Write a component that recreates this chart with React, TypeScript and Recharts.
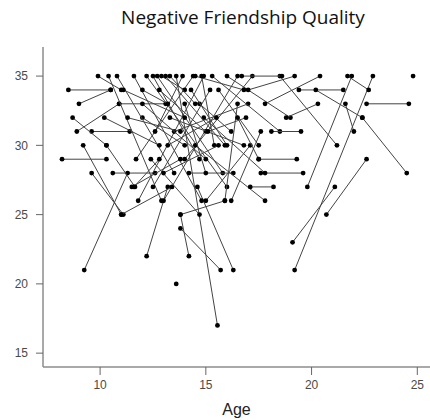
import React from "react";
import {
	Scatter,
	ScatterChart,
	XAxis,
	YAxis,
} from "recharts";

// each participant: first visit (age, score) -> second visit (age, score)
const firstAge = [
	8.5, 8.2, 9.6, 10.6, 10.9, 9.25, 9.2, 12.2, 13.6, 13.8, 13.8, 14.6, 9.9, 9.0,
	8.9, 8.7, 9.6, 10.3, 10.4, 11.6, 12.2, 12.5, 12.7, 11.8, 12.5, 13.0, 11.7,
	12.0, 12.8, 13.3, 13.5, 14.0, 14.2, 14.7, 14.5, 15.0, 15.9, 16.2, 15.3, 15.6,
	16.0, 16.5, 17.5, 17.6, 17.1, 17.0, 17.8, 19.4, 22.6, 19.2, 19.8, 19.1, 20.7,
	22.4, 20.2, 21.6, 21.7, 18.5, 18.8, 18.1, 13.8, 11.0, 11.5, 12.4, 10.8, 11.1,
	11.3, 12.0, 13.2, 14.3, 14.9, 12.6, 10.2, 12.9, 13.1, 13.3, 12.0, 14.5, 14.8,
	16.7, 15.1, 13.0, 11.6, 14.0,
];
const firstScore = [
	34, 29, 31, 28, 33, 21, 30, 22, 35, 24, 25, 27, 35, 33, 31, 32, 28, 30, 35,
	35, 35, 35, 35, 26, 27, 26, 29, 32, 34, 32, 31, 29, 28, 33, 30, 26, 26, 26,
	35, 34, 35, 32, 29, 28, 27, 34, 33, 34, 33, 21, 27, 23, 25, 32, 34, 33, 35,
	35, 32, 31, 25, 25, 27, 29, 35, 34, 32, 33, 30, 34, 32, 31, 32, 35, 35, 35,
	34, 35, 35, 35, 31, 28, 27, 33,
];
const secondAge = [
	10.5, 10.3, 11.4, 12.6, 13.1, 11.3, 11.0, 13.2, 15.55, 15.7, 14.2, 16.3, 11.0,
	10.5, 10.9, 10.3, 11.1, 11.65, 12.9, 14.8, 16.0, 14.7, 15.8, 14.9, 15.2, 16.5,
	14.4, 14.0, 15.0, 16.8, 17.0, 17.2, 16.3, 16.2, 17.8, 17.1, 16.5, 17.6, 18.5,
	17.5, 19.0, 17.5, 19.3, 19.6, 18.2, 19.2, 20.4, 21.5, 24.6, 22.9, 21.9, 21.1,
	22.6, 24.5, 22.4, 22.0, 22.7, 21.2, 20.3, 19.5, 15.9, 13.4, 13.8, 14.7, 13.5,
	14.0, 13.8, 15.0, 15.5, 16.0, 17.8, 13.9, 12.8, 14.0, 15.9, 14.5, 13.2, 16.8,
	15.4, 18.6, 16.9, 15.6, 12.8, 15.0,
];
const secondScore = [
	34, 29, 31, 28, 33, 28, 25, 27, 17, 21, 22, 21, 34, 34, 33, 30, 25, 27, 26,
	26, 27, 29, 28, 35, 34, 35, 35, 30, 31, 30, 33, 35, 28, 31, 26, 30, 33, 31,
	31, 30, 32, 29, 29, 28, 27, 35, 35, 34, 33, 35, 35, 27, 29, 28, 32, 31, 34,
	30, 33, 31, 26, 27, 29, 25, 28, 32, 31, 29, 32, 30, 28, 35, 30, 34, 30, 33,
	33, 34, 30, 35, 32, 30, 29, 28,
];

// participants seen only once
const singleAge = [13.6, 24.8];
const singleScore = [20, 35];

const xTicks = [10, 15, 20, 25];
const yTicks = [15, 20, 25, 30, 35];

const trajectories = firstAge.map((age, i) => [
	{ age, score: firstScore[i] },
	{ age: secondAge[i], score: secondScore[i] },
]);
const singles = singleAge.map((age, i) => ({ age, score: singleScore[i] }));

const Dot = (props: any) => (
	<circle cx={props.cx} cy={props.cy} fill="#000" r={2.4} />
);

const tickStyle = {
	fill: "#4a4a4a",
	fontFamily: "Liberation Sans, Arial, sans-serif",
	fontSize: 12,
};

export default function App() {
	return (
		<div
			style={{
				position: "absolute",
				left: 0,
				top: 0,
				width: 430,
				height: 420,
				background: "#fff",
			}}
		>
			<div
				style={{
					position: "absolute",
					left: 0,
					top: 4,
					width: 486,
					textAlign: "center",
					fontFamily: "Open Sans, sans-serif",
					fontSize: 19,
					color: "#111",
				}}
			>
				Negative Friendship Quality
			</div>
			<ScatterChart
				height={420}
				margin={{ top: 47, right: 0, left: 0, bottom: 23 }}
				width={430}
			>
				<XAxis
					allowDataOverflow
					axisLine={{ stroke: "#8c8c8c", strokeWidth: 1.5 }}
					dataKey="age"
					domain={[7.3, 25.6]}
					height={30}
					label={{
						value: "Age",
						position: "insideBottom",
						offset: -18,
						fill: "#222",
						fontSize: 16,
						fontFamily: "Liberation Sans, Arial, sans-serif",
					}}
					tick={tickStyle}
					tickLine={{ stroke: "#666" }}
					tickMargin={5}
					tickSize={8}
					ticks={xTicks}
					type="number"
				/>
				<YAxis
					allowDataOverflow
					axisLine={{ stroke: "#8c8c8c", strokeWidth: 1.5 }}
					dataKey="score"
					domain={[14, 37.1]}
					tick={tickStyle}
					tickLine={{ stroke: "#666" }}
					tickMargin={8}
					tickSize={7}
					ticks={yTicks}
					type="number"
					width={43}
				/>
				{trajectories.map((pts, i) => (
					<Scatter
						data={pts}
						isAnimationActive={false}
						key={i}
						line={{ stroke: "#444", strokeWidth: 1 }}
						shape={Dot}
					/>
				))}
				<Scatter data={singles} isAnimationActive={false} shape={Dot} />
			</ScatterChart>
		</div>
	);
}
